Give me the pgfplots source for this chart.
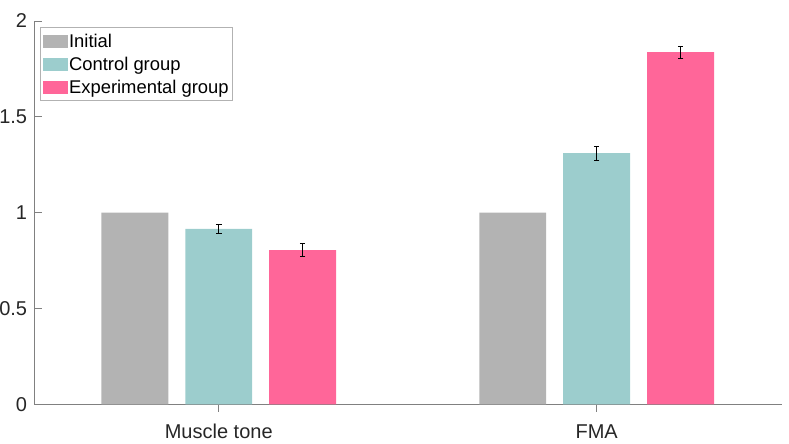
\documentclass[border=0pt]{standalone}
\usepackage{pgfplots}
\pgfplotsset{compat=1.18}
\usepackage{fontspec}
\setmainfont{Liberation Sans}
\definecolor{cgray}{RGB}{179,179,179}
\definecolor{cteal}{RGB}{156,205,205}
\definecolor{cpink}{RGB}{255,102,153}
\definecolor{txt}{RGB}{38,38,38}
\definecolor{axc}{RGB}{128,128,128}
\begin{document}
\begin{tikzpicture}
\path[use as bounding box] (-34.3bp,-39.7bp) rectangle (754.7bp,404.3bp);
\begin{axis}[
  at={(0,0)}, anchor=south west,
  scale only axis, width=747.2bp, height=383.3bp,
  xmin=0.512, xmax=2.489, ymin=0, ymax=2,
  axis x line*=bottom, axis y line*=left,
  axis line style={axc, line width=0.7bp},
  tick style={axc, line width=0.7bp},
  tick align=inside, major tick length=7.5bp,
  xtick={1,2}, xticklabels={Muscle tone, FMA},
  ytick={0,0.5,1,1.5,2},
  yticklabels={0,0.5,1,1.5,2},
  tick label style={font=\fontsize{20bp}{24bp}\selectfont, text=txt},
  xticklabel style={inner sep=0pt, anchor=north, yshift=-12.4bp},
  yticklabel style={inner sep=0pt, anchor=east, xshift=-7bp},
  /pgf/number format/assume math mode=true,
  ybar, bar width=0.177,
  legend image code/.code={\fill[#1] (0bp,-0.7bp) rectangle (25bp,13bp);},
  legend style={at={(rel axis cs:0,1)}, anchor=north west, xshift=6bp, yshift=-6.3bp,
    draw=black!30, line width=0.6bp, inner xsep=2.7bp, inner ysep=2bp, row sep=0pt,
    font=\fontsize{18.4bp}{22bp}\selectfont,
    nodes={anchor=base west, inner xsep=0.8bp, inner ysep=0pt, text height=18bp, text depth=5bp, text=black}},
]
\addplot[fill=cgray, draw=none, bar shift=-0.222] coordinates {(1,1) (2,1)};
\addlegendentry{Initial}
\addplot[fill=cteal, draw=none, bar shift=0,
  error bars/.cd, y dir=both, y explicit,
  error bar style={line width=1.2bp, black},
  error mark options={rotate=90, mark size=2.8bp, line width=1.2bp, black}]
  coordinates {(1,0.915) +- (0,0.024) (2,1.310) +- (0,0.037)};
\addlegendentry{Control group}
\addplot[fill=cpink, draw=none, bar shift=0.222,
  error bars/.cd, y dir=both, y explicit,
  error bar style={line width=1.2bp, black},
  error mark options={rotate=90, mark size=2.8bp, line width=1.2bp, black}]
  coordinates {(1,0.804) +- (0,0.033) (2,1.837) +- (0,0.031)};
\addlegendentry{Experimental group}
\end{axis}
\end{tikzpicture}
\end{document}
